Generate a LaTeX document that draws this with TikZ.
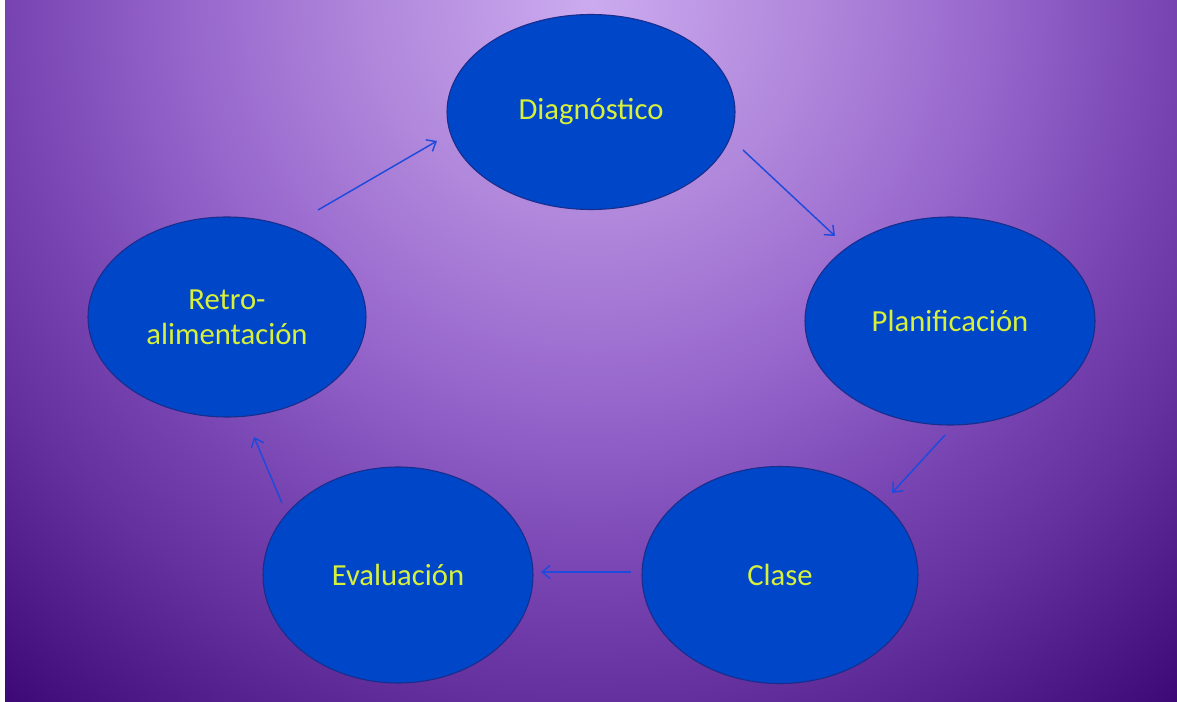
\documentclass[tikz,border=0pt]{standalone}
\usepackage{fontspec}
\setmainfont{Carlito}
\usetikzlibrary{shapes.geometric,arrows.meta}
\definecolor{ellfill}{RGB}{0,70,200}
\definecolor{ellborder}{RGB}{25,45,140}
\definecolor{txtcol}{RGB}{215,240,60}
\definecolor{arrcol}{RGB}{30,75,220}
\pgfdeclareradialshading{bgshade}{\pgfpoint{0bp}{0bp}}{%
rgb(0bp)=(0.80,0.67,0.94);
rgb(6bp)=(0.69,0.53,0.86);
rgb(11bp)=(0.59,0.40,0.80);
rgb(16bp)=(0.46,0.26,0.69);
rgb(19bp)=(0.39,0.19,0.62);
rgb(25bp)=(0.23,0.03,0.46);
rgb(50bp)=(0.23,0.03,0.46)}
\begin{document}
\begin{tikzpicture}[x=0.75pt,y=-0.75pt,
  blob/.style={ellipse, draw=ellborder, fill=ellfill, line width=0.8pt,
    inner sep=0pt, outer sep=0pt, text=txtcol,
    font=\fontsize{23}{26}\selectfont, align=center},
  arr/.style={draw=arrcol, line width=1.1pt, -{Straight Barb[length=6pt,width=10pt]}}]
\useasboundingbox (0,0) rectangle (1177,702);
\begin{scope}
  \clip (0,0) rectangle (1177,702);
  \shade[shading=bgshade] (590,0) circle (690pt);
\end{scope}
\fill[white] (0,0) rectangle (5,702);

\node[blob, minimum width=216pt, minimum height=146.25pt] (diag) at (591,112) {Diagnóstico};
\node[blob, minimum width=217.5pt, minimum height=156pt] (plan) at (950,321) {Planificación};
\node[blob, minimum width=207pt, minimum height=162.75pt] (clase) at (780,575) {Clase};
\node[blob, minimum width=202.5pt, minimum height=162pt] (eval) at (398,575) {Evaluación};
\node[blob, minimum width=208.5pt, minimum height=150pt] (retro) at (227,317) {Retro-\\alimentación};

\draw[arr] ([shift={(91,-107)}]retro.center) -- ([shift={(-154,29)}]diag.center);
\draw[arr] ([shift={(152,38)}]diag.center) -- ([shift={(-115,-85)}]plan.center);
\draw[arr] ([shift={(-5,114)}]plan.center) -- ([shift={(112,-82)}]clase.center);
\draw[arr] ([shift={(-149,-3)}]clase.center) -- ([shift={(143,-3)}]eval.center);
\draw[arr] ([shift={(-116,-72)}]eval.center) -- ([shift={(27,120)}]retro.center);
\end{tikzpicture}
\end{document}
